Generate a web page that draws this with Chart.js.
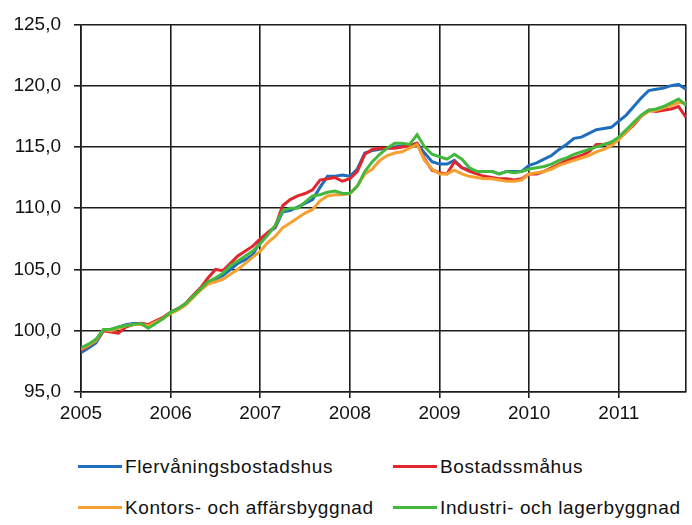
<!DOCTYPE html>
<html>
<head>
<meta charset="utf-8">
<script src="https://cdn.jsdelivr.net/npm/chart.js@4"></script>
<style>
  body { margin: 0; background: #fff; }
  #wrap { position: relative; width: 692px; height: 525px; }
  .leg { position: absolute; font-family: "Liberation Sans", Arial, sans-serif;
         font-size: 19px; letter-spacing: 0.6px; color: #111; white-space: nowrap; line-height: 20px; }
  .leg span { display: inline-block; width: 44px; height: 3px; vertical-align: middle; margin-right: 3px; position: relative; top: -1px; }
</style>
</head>
<body>
<div id="wrap">
  <canvas id="lineChart" width="692" height="440"></canvas>
  <div id="legend"></div>
</div>
<script>
var years = ['2005', '2006', '2007', '2008', '2009', '2010', '2011'];
var yTicks = [95, 100, 105, 110, 115, 120, 125];
var seriesNames = ['Flervåningsbostadshus', 'Bostadssmåhus', 'Kontors- och affärsbyggnad', 'Industri- och lagerbyggnad'];
var seriesColors = ['#1f6ebe', '#e2262e', '#f5a030', '#43b83c'];

// monthly values, jan 2005 - oct 2011
var flervaning = [
  98.2, 98.6, 99.0, 100.0, 100.1, 100.3, 100.5, 100.6, 100.6, 100.5, 100.7, 101.0,
  101.5, 101.8, 102.2, 102.8, 103.4, 103.9, 104.2, 104.5, 105.0, 105.5, 105.8, 106.2,
  107.3, 108.0, 108.4, 109.7, 109.8, 110.1, 110.4, 110.7, 111.7, 112.6, 112.6, 112.7,
  112.6, 113.2, 114.5, 114.7, 114.8, 114.9, 115.0, 115.1, 115.1, 115.3, 114.5, 113.8,
  113.6, 113.6, 113.9, 113.3, 113.1, 113.0, 113.0, 113.0, 112.8, 113.0, 113.0, 113.0,
  113.5, 113.7, 114.0, 114.3, 114.8, 115.2, 115.7, 115.8, 116.1, 116.4, 116.5, 116.6,
  117.1, 117.6, 118.3, 119.0, 119.6, 119.7, 119.8, 120.0, 120.1, 119.7
];
var smahus = [
  98.4, 98.8, 99.2, 100.0, 99.9, 99.8, 100.3, 100.5, 100.6, 100.5, 100.8, 101.1,
  101.5, 101.8, 102.2, 102.9, 103.5, 104.3, 105.0, 104.9, 105.5, 106.1, 106.5, 106.9,
  107.5, 108.0, 108.5, 110.2, 110.7, 111.0, 111.2, 111.5, 112.3, 112.4, 112.5, 112.2,
  112.4, 113.0, 114.4, 114.8, 114.9, 114.9, 114.9, 115.0, 115.1, 115.3, 114.0, 113.1,
  112.9, 112.8, 113.8, 113.3, 113.0, 112.8, 112.6, 112.5, 112.4, 112.4, 112.3, 112.4,
  112.8, 112.8, 113.0, 113.3, 113.6, 113.9, 114.1, 114.3, 114.6, 115.2, 115.2, 115.3,
  115.7, 116.2, 116.8, 117.5, 118.0, 117.9, 118.0, 118.1, 118.3, 117.4
];
var kontor = [
  98.5, 98.8, 99.2, 100.1, 100.0, 100.2, 100.4, 100.5, 100.5, 100.4, 100.7, 101.0,
  101.4, 101.7, 102.1, 102.7, 103.3, 103.8, 104.0, 104.2, 104.6, 105.0, 105.5, 106.0,
  106.5, 107.2, 107.7, 108.4, 108.8, 109.2, 109.6, 109.9, 110.6, 111.0, 111.1, 111.1,
  111.2, 111.8, 112.8, 113.2, 113.9, 114.3, 114.5, 114.6, 114.9, 115.2, 113.9, 113.2,
  112.8, 112.8, 113.1, 112.8, 112.6, 112.5, 112.4, 112.4, 112.3, 112.2, 112.2, 112.3,
  112.8, 112.9, 113.0, 113.2, 113.5, 113.7, 113.9, 114.1, 114.3, 114.6, 114.8, 115.1,
  115.6, 116.2, 116.9, 117.5, 117.9, 118.0, 118.2, 118.4, 118.6, 118.6
];
var industri = [
  98.6, 98.9, 99.3, 100.1, 100.1, 100.3, 100.4, 100.5, 100.6, 100.2, 100.6, 101.0,
  101.5, 101.8, 102.2, 102.8, 103.4, 104.0, 104.3, 104.7, 105.3, 105.7, 106.1, 106.5,
  107.1, 107.8, 108.6, 109.8, 110.0, 110.0, 110.5, 111.0, 111.1, 111.3, 111.4, 111.2,
  111.2, 111.8, 113.0, 113.8, 114.4, 114.9, 115.3, 115.3, 115.2, 116.0, 115.0, 114.4,
  114.2, 114.0, 114.4, 114.0, 113.3, 113.0, 113.0, 113.0, 112.8, 113.0, 112.9, 113.0,
  113.2, 113.3, 113.4, 113.6, 113.9, 114.1, 114.4, 114.6, 114.8, 115.0, 115.2, 115.4,
  115.8, 116.4, 117.0, 117.6, 118.0, 118.1, 118.3, 118.6, 118.9, 118.4
];

var allSeries = [flervaning, smahus, kontor, industri];
var lastMonth = flervaning.length - 1;

function toPoints(arr) {
    return arr.map(function (v, i) { return { x: i, y: v }; });
}

var gridColor = '#1c1c1c';
var tickFont = { family: '"Liberation Sans", Arial, sans-serif', size: 19 };

var ctxLineChart = document.getElementById('lineChart').getContext('2d');
var lineChart = new Chart(ctxLineChart, {
    type: 'line',
    data: {
        datasets: allSeries.map(function (arr, k) {
            return {
                label: seriesNames[k],
                data: toPoints(arr),
                borderColor: seriesColors[k],
                backgroundColor: seriesColors[k],
                borderWidth: 3,
                pointRadius: 0,
                tension: 0,
                order: 3 - k
            };
        })
    },
    options: {
        responsive: false,
        animation: false,
        layout: { padding: { top: 22, right: 6, left: 10, bottom: 0 } },
        plugins: { legend: { display: false }, tooltip: { enabled: false } },
        scales: {
            x: {
                type: 'linear',
                min: 0,
                max: lastMonth,
                afterBuildTicks: function (scale) {
                    var t = years.map(function (y, i) { return { value: i * 12 }; });
                    t.push({ value: lastMonth });
                    scale.ticks = t;
                },
                afterFit: function (scale) { scale.height = 48; },
                ticks: {
                    autoSkip: false,
                    maxRotation: 0,
                    padding: 4,
                    color: '#111',
                    font: tickFont,
                    callback: function (v) { return v % 12 === 0 ? years[v / 12] : ''; }
                },
                grid: {
                    color: gridColor,
                    lineWidth: 1.6,
                    tickLength: 6,
                    tickColor: function (c) { return c.tick && c.tick.value === lastMonth ? 'rgba(0,0,0,0)' : gridColor; }
                },
                border: { color: gridColor, width: 1.6 }
            },
            y: {
                min: yTicks[0],
                max: yTicks[yTicks.length - 1],
                afterBuildTicks: function (scale) {
                    scale.ticks = yTicks.map(function (v) { return { value: v }; });
                },
                afterFit: function (scale) { scale.width = 71; },
                ticks: {
                    padding: 13,
                    color: '#111',
                    font: tickFont,
                    callback: function (v) { return v.toFixed(1).replace('.', ','); }
                },
                grid: { color: gridColor, lineWidth: 1.6, tickLength: 7 },
                border: { color: gridColor, width: 1.6 }
            }
        }
    }
});

// legend in two columns below the chart
var legendPos = [[78, 457], [393, 457], [78, 498], [393, 498]];
var legendEl = document.getElementById('legend');
seriesNames.forEach(function (name, k) {
    var d = document.createElement('div');
    d.className = 'leg';
    d.style.left = legendPos[k][0] + 'px';
    d.style.top = legendPos[k][1] + 'px';
    d.innerHTML = '<span style="background:' + seriesColors[k] + '"></span>' + name;
    legendEl.appendChild(d);
});
</script>
</body>
</html>
